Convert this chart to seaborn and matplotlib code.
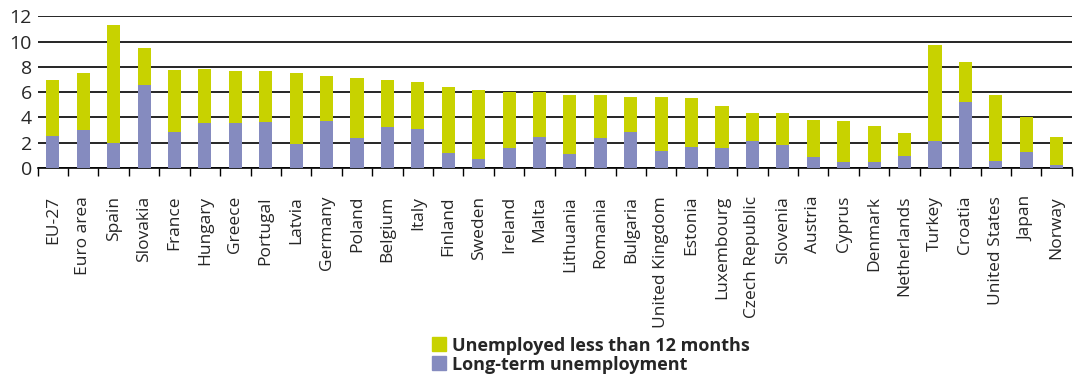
import numpy as np
import pandas as pd
import matplotlib
matplotlib.use("Agg")
import matplotlib.pyplot as plt
import seaborn as sns
from matplotlib.patches import Patch
from matplotlib.ticker import FixedLocator

countries = ["EU-27", "Euro area", "Spain", "Slovakia", "France", "Hungary", "Greece",
             "Portugal", "Latvia", "Germany", "Poland", "Belgium", "Italy", "Finland",
             "Sweden", "Ireland", "Malta", "Lithuania", "Romania", "Bulgaria",
             "United Kingdom", "Estonia", "Luxembourg", "Czech Republic", "Slovenia",
             "Austria", "Cyprus", "Denmark", "Netherlands", "Turkey", "Croatia",
             "United States", "Japan", "Norway"]

# total unemployment rate (%) and the long-term part of it
total = [6.97, 7.53, 11.32, 9.5, 7.76, 7.84, 7.68, 7.68, 7.53, 7.29, 7.13, 6.97, 6.82,
         6.42, 6.18, 6.03, 6.03, 5.79, 5.79, 5.63, 5.63, 5.55, 4.92, 4.37, 4.37, 3.82,
         3.74, 3.34, 2.79, 9.74, 8.39, 5.79, 4.05, 2.47]
long_term = [2.55, 3.03, 1.97, 6.58, 2.87, 3.58, 3.58, 3.66, 1.92, 3.74, 2.39, 3.26, 3.11,
             1.21, 0.74, 1.61, 2.47, 1.13, 2.39, 2.87, 1.37, 1.68, 1.61, 2.16, 1.84, 0.89,
             0.5, 0.5, 0.97, 2.16, 5.24, 0.58, 1.29, 0.26]

df = pd.DataFrame({"country": countries, "total": total, "long_term": long_term})

green = "#C8D200"
blue = "#858BBF"

sns.set_style("white")
plt.rcParams["font.family"] = ["Open Sans", "DejaVu Sans"]

fig, ax = plt.subplots(figsize=(10.74, 3.77), dpi=100)
fig.subplots_adjust(left=0.035, right=0.998, top=0.957, bottom=0.554)

# stacked: full bar in green, long-term part on top in blue
sns.barplot(data=df, x="country", y="total", color=green, width=0.43,
            saturation=1, linewidth=0, ax=ax, zorder=3)
sns.barplot(data=df, x="country", y="long_term", color=blue, width=0.43,
            saturation=1, linewidth=0, ax=ax, zorder=3)

ax.set_ylim(0, 12)
ax.set_xlim(-0.5, len(countries) - 0.5)
ax.set_yticks(range(0, 13, 2))
ax.yaxis.grid(True, color="black", linewidth=1.2)
ax.set_axisbelow(True)
ax.set_xlabel("")
ax.set_ylabel("")
for s in ["top", "right", "left"]:
    ax.spines[s].set_visible(False)
ax.spines["bottom"].set_color("black")
ax.spines["bottom"].set_linewidth(1.2)

ax.tick_params(axis="x", which="major", length=0, pad=20, labelsize=12.5, rotation=90)
ax.xaxis.set_minor_locator(FixedLocator(np.arange(-0.5, len(countries), 1)))
ax.tick_params(axis="x", which="minor", length=6, width=1, color="black", bottom=True)
ax.tick_params(axis="y", length=0, labelsize=14, pad=4)

handles = [Patch(color=green, label="Unemployed less than 12 months"),
           Patch(color=blue, label="Long-term unemployment")]
fig.legend(handles=handles, loc="upper left", bbox_to_anchor=(0.402, 0.107),
           frameon=False, prop={"weight": "bold", "size": 13},
           handlelength=0.8, handleheight=0.8, handletextpad=0.3,
           labelspacing=0.05, borderpad=0, borderaxespad=0)

fig.savefig("out.png", dpi=100)
